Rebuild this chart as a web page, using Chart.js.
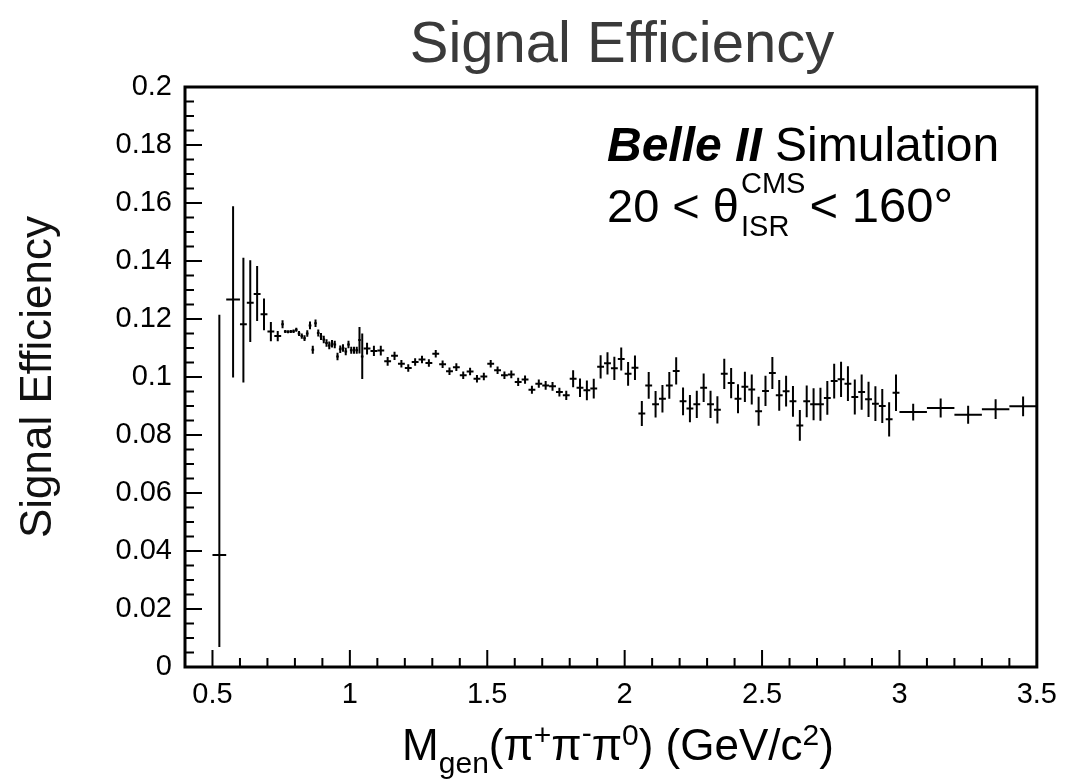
<!DOCTYPE html>
<html>
<head>
<meta charset="utf-8">
<title>Signal Efficiency</title>
<script src="https://cdn.jsdelivr.net/npm/chart.js@4.4.1/dist/chart.umd.min.js"></script>
<style>
  html, body { margin: 0; padding: 0; background: #fff; }
</style>
</head>
<body>
<canvas id="eff" width="1068" height="780"></canvas>
<script>
// histogram binning: [low edge, high edge, bin width]
const binSegments = [
  [0.5, 0.6, 0.05],
  [0.6, 0.75, 0.025],
  [0.75, 1.05, 0.01],
  [1.05, 3.0, 0.025],
  [3.0, 3.5, 0.1],
];

// efficiency per bin
const effValues = [
  0.0386, 0.1267,
  0.1182, 0.1256, 0.1286, 0.1216, 0.1157, 0.1141,
  0.1182, 0.1157, 0.1156, 0.1157, 0.1158, 0.1163, 0.1150, 0.1141, 0.1134, 0.1150,
  0.1178, 0.1094, 0.1185, 0.1152, 0.1140, 0.1129, 0.1117, 0.1109, 0.1115, 0.1112,
  0.1071, 0.1096, 0.1100, 0.1088, 0.1112, 0.1092, 0.1092, 0.1092, 0.1128, 0.1071,
  0.1098, 0.1090, 0.1091, 0.1054, 0.1073, 0.1046, 0.1031, 0.1052, 0.1060, 0.1048,
  0.1080, 0.1044, 0.1020, 0.1034, 0.1006, 0.1019, 0.0994, 0.1002, 0.1046, 0.1023,
  0.1006, 0.1009, 0.0983, 0.0991, 0.0956, 0.0977, 0.0971, 0.0968, 0.0948, 0.0937,
  0.0994, 0.0963, 0.0954, 0.0960, 0.1035, 0.1047, 0.1030, 0.1062, 0.1011, 0.1032,
  0.0874, 0.0971, 0.0906, 0.0925, 0.0971, 0.1021, 0.0916, 0.0891, 0.0906, 0.0963,
  0.0906, 0.0887, 0.1011, 0.0979, 0.0925, 0.0966, 0.0957, 0.0882, 0.0952, 0.1014,
  0.0937, 0.0951, 0.0916, 0.0833, 0.0916, 0.0906, 0.0906, 0.0928, 0.0986, 0.0992,
  0.0977, 0.0931, 0.0948, 0.0923, 0.0908, 0.0900, 0.0854, 0.0946,
  0.0879, 0.0893, 0.0870, 0.0889, 0.0899,
];

// upper / lower error per bin
const errHi = [
  0.0829, 0.0322,
  0.0229, 0.0147, 0.0097, 0.0055, 0.0033, 0.0018,
  0.0014, 0.0005, 0.0005, 0.0005, 0.0006, 0.0007, 0.0009, 0.0009, 0.0010, 0.0011,
  0.0013, 0.0014, 0.0013, 0.0012, 0.0012, 0.0013, 0.0013, 0.0013, 0.0013, 0.0013,
  0.0013, 0.0013, 0.0013, 0.0013, 0.0013, 0.0012, 0.0012, 0.0012, 0.0044, 0.0079,
  0.0020, 0.0018, 0.0017, 0.0015, 0.0014, 0.0013, 0.0013, 0.0013, 0.0013, 0.0013,
  0.0013, 0.0013, 0.0013, 0.0013, 0.0013, 0.0013, 0.0013, 0.0013, 0.0013, 0.0013,
  0.0013, 0.0013, 0.0014, 0.0014, 0.0014, 0.0014, 0.0015, 0.0015, 0.0015, 0.0016,
  0.0029, 0.0032, 0.0034, 0.0034, 0.0040, 0.0038, 0.0040, 0.0040, 0.0041, 0.0042,
  0.0043, 0.0046, 0.0046, 0.0047, 0.0046, 0.0047, 0.0048, 0.0047, 0.0047, 0.0049,
  0.0047, 0.0047, 0.0052, 0.0052, 0.0050, 0.0052, 0.0052, 0.0050, 0.0052, 0.0055,
  0.0053, 0.0053, 0.0053, 0.0053, 0.0055, 0.0055, 0.0057, 0.0058, 0.0060, 0.0061,
  0.0060, 0.0060, 0.0061, 0.0061, 0.0060, 0.0059, 0.0059, 0.0063,
  0.0029, 0.0033, 0.0031, 0.0034, 0.0034,
];
const errLo = [
  0.0317, 0.0269,
  0.0201, 0.0135, 0.0093, 0.0055, 0.0034, 0.0018,
  0.0014, 0.0005, 0.0005, 0.0005, 0.0006, 0.0007, 0.0009, 0.0009, 0.0010, 0.0011,
  0.0013, 0.0014, 0.0013, 0.0012, 0.0012, 0.0013, 0.0013, 0.0013, 0.0013, 0.0013,
  0.0013, 0.0013, 0.0013, 0.0013, 0.0013, 0.0012, 0.0012, 0.0012, 0.0047, 0.0078,
  0.0020, 0.0018, 0.0017, 0.0015, 0.0014, 0.0013, 0.0013, 0.0013, 0.0013, 0.0013,
  0.0013, 0.0013, 0.0013, 0.0013, 0.0013, 0.0013, 0.0013, 0.0013, 0.0013, 0.0013,
  0.0013, 0.0013, 0.0014, 0.0014, 0.0014, 0.0014, 0.0015, 0.0015, 0.0015, 0.0016,
  0.0029, 0.0032, 0.0034, 0.0034, 0.0040, 0.0038, 0.0040, 0.0040, 0.0041, 0.0042,
  0.0043, 0.0046, 0.0046, 0.0047, 0.0046, 0.0047, 0.0048, 0.0047, 0.0047, 0.0049,
  0.0047, 0.0047, 0.0052, 0.0052, 0.0050, 0.0052, 0.0052, 0.0050, 0.0052, 0.0055,
  0.0053, 0.0053, 0.0053, 0.0053, 0.0055, 0.0055, 0.0057, 0.0058, 0.0060, 0.0061,
  0.0060, 0.0060, 0.0061, 0.0061, 0.0060, 0.0059, 0.0059, 0.0063,
  0.0029, 0.0033, 0.0031, 0.0034, 0.0034,
];

const xTickValues = [0.5, 1, 1.5, 2, 2.5, 3, 3.5];
const xTickLabels = ['0.5', '1', '1.5', '2', '2.5', '3', '3.5'];
const yTickValues = [0, 0.02, 0.04, 0.06, 0.08, 0.1, 0.12, 0.14, 0.16, 0.18, 0.2];
const yTickLabels = ['0', '0.02', '0.04', '0.06', '0.08', '0.1', '0.12', '0.14', '0.16', '0.18', '0.2'];

// bin centres and half widths from the binning
const binCenters = [];
const binHalf = [];
binSegments.forEach(([lo, hi, w]) => {
  const n = Math.round((hi - lo) / w);
  for (let i = 0; i < n; i++) {
    binCenters.push(+(lo + (i + 0.5) * w).toFixed(5));
    binHalf.push(w / 2);
  }
});

const FONT = '"Liberation Sans", Arial, Helvetica, sans-serif';

// draws a list of text runs [text, size, dy, style] starting at x
const drawRuns = (ctx, runs, x, y, align) => {
  const widths = runs.map(r => {
    ctx.font = `${r[3] || ''} ${r[1]}px ${FONT}`;
    return ctx.measureText(r[0]).width;
  });
  const total = widths.reduce((a, b) => a + b, 0);
  let cx = align === 'center' ? x - total / 2 : x;
  runs.forEach((r, i) => {
    ctx.font = `${r[3] || ''} ${r[1]}px ${FONT}`;
    ctx.fillText(r[0], cx, y + (r[2] || 0));
    cx += widths[i];
  });
};

const rootStyle = {
  id: 'rootStyle',
  afterDatasetsDraw(chart) {
    const { ctx, chartArea: a, scales: { x, y } } = chart;

    // data: horizontal bin bar + vertical error bar
    ctx.save();
    ctx.beginPath();
    ctx.rect(a.left, a.top, a.right - a.left, a.bottom - a.top);
    ctx.clip();
    ctx.strokeStyle = '#000';
    ctx.lineWidth = 2;
    binCenters.forEach((c, i) => {
      const yp = y.getPixelForValue(effValues[i]);
      const xp = x.getPixelForValue(c);
      ctx.beginPath();
      ctx.moveTo(x.getPixelForValue(c - binHalf[i]), yp);
      ctx.lineTo(x.getPixelForValue(c + binHalf[i]), yp);
      ctx.moveTo(xp, y.getPixelForValue(effValues[i] + errHi[i]));
      ctx.lineTo(xp, y.getPixelForValue(effValues[i] - errLo[i]));
      ctx.stroke();
    });
    ctx.restore();

    // frame and inner ticks
    ctx.save();
    ctx.strokeStyle = '#000';
    ctx.lineWidth = 2;
    ctx.beginPath();
    for (let k = 0; k <= 40; k++) {
      const yp = y.getPixelForValue(k * 0.005);
      ctx.moveTo(a.left, yp);
      ctx.lineTo(a.left + (k % 4 === 0 ? 17 : 9), yp);
    }
    for (let k = 5; k <= 34; k++) {
      const xp = x.getPixelForValue(k / 10);
      ctx.moveTo(xp, a.bottom);
      ctx.lineTo(xp, a.bottom - (k % 5 === 0 ? 17 : 9));
    }
    ctx.stroke();
    ctx.lineWidth = 3;
    ctx.strokeRect(a.left, a.top, a.right - a.left, a.bottom - a.top);
    ctx.restore();

    // texts
    ctx.save();
    ctx.textBaseline = 'alphabetic';
    ctx.textAlign = 'left';

    ctx.fillStyle = '#3a3a3a';
    drawRuns(ctx, [['Signal Efficiency', 58]], 622, 62, 'center');

    ctx.fillStyle = '#000';
    drawRuns(ctx, [
      ['M', 44], ['gen', 30, 13],
      ['(\u03C0', 44], ['+', 30, -15], ['\u03C0', 44], ['-', 30, -17],
      ['\u03C0', 44], ['0', 30, -15], [') (GeV/c', 44], ['2', 30, -15], [')', 44],
    ], 618, 760, 'center');

    drawRuns(ctx, [['Belle II', 48, 0, 'italic bold'], [' Simulation', 48]], 607, 161, 'left');

    ctx.font = `47px ${FONT}`;
    const head = '20 < \u03B8';
    ctx.fillText(head, 607, 222);
    const hx = 607 + ctx.measureText(head).width + 2;
    ctx.font = `29px ${FONT}`;
    ctx.fillText('CMS', hx, 193);
    ctx.fillText('ISR', hx, 236);
    const sw = Math.max(ctx.measureText('CMS').width, ctx.measureText('ISR').width);
    ctx.font = `49px ${FONT}`;
    ctx.fillText('< 160\u00B0', hx + sw + 4, 222);
    ctx.restore();
  },
};

new Chart(document.getElementById('eff'), {
  type: 'scatter',
  data: {
    datasets: [{
      data: binCenters.map((c, i) => ({ x: c, y: effValues[i] })),
      pointRadius: 0,
      pointHoverRadius: 0,
      showLine: false,
    }],
  },
  options: {
    responsive: false,
    animation: false,
    events: [],
    layout: { padding: { left: 0, top: 87, right: 30, bottom: 0 } },
    plugins: {
      legend: { display: false },
      tooltip: { enabled: false },
      title: { display: false },
    },
    scales: {
      x: {
        type: 'linear',
        min: 0.4,
        max: 3.5,
        grid: { display: false, drawTicks: false },
        border: { display: false },
        afterBuildTicks: s => { s.ticks = xTickValues.map(v => ({ value: v })); },
        afterFit: s => { s.height = 113; },
        ticks: {
          autoSkip: false,
          maxRotation: 0,
          padding: 11,
          color: '#000',
          font: { family: FONT, size: 29 },
          callback: (v, i) => xTickLabels[i],
        },
      },
      y: {
        type: 'linear',
        min: 0,
        max: 0.2,
        grid: { display: false, drawTicks: false },
        border: { display: false },
        afterBuildTicks: s => { s.ticks = yTickValues.map(v => ({ value: v })); },
        afterFit: s => { s.width = 185; },
        ticks: {
          autoSkip: false,
          padding: 13,
          color: '#000',
          font: { family: FONT, size: 29 },
          callback: (v, i) => yTickLabels[i],
        },
        title: {
          display: true,
          text: 'Signal Efficiency',
          color: '#111',
          font: { family: FONT, size: 44 },
          padding: { top: 12, bottom: 0 },
        },
      },
    },
  },
  plugins: [rootStyle],
});
</script>
</body>
</html>
